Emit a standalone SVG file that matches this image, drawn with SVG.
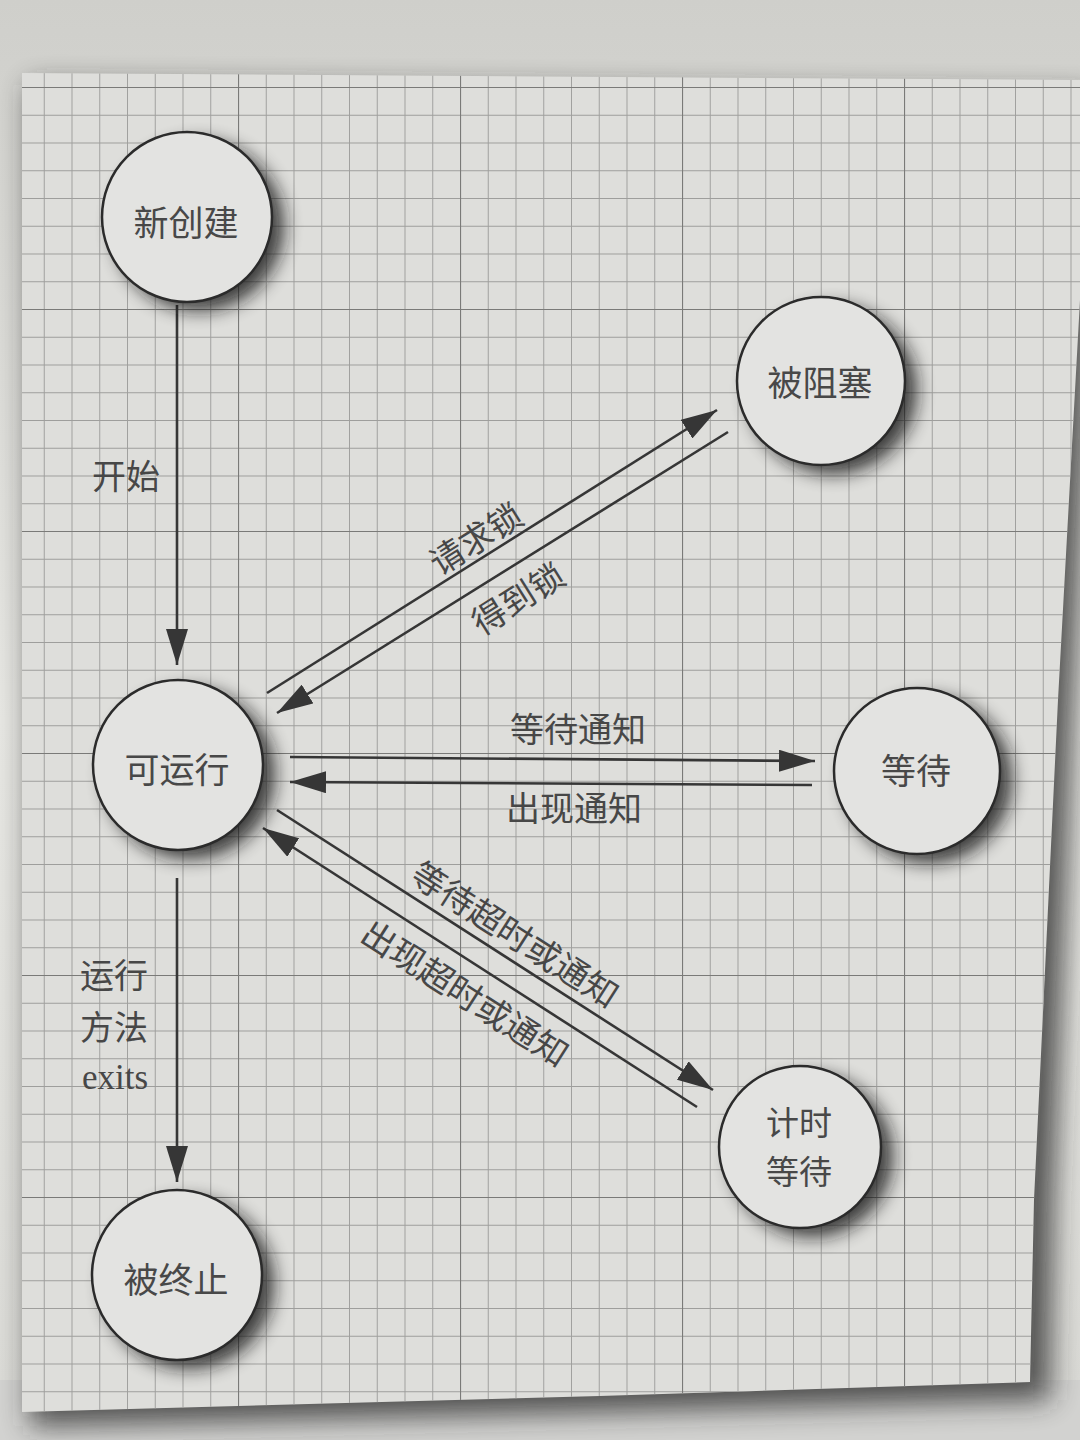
<svg xmlns="http://www.w3.org/2000/svg" width="1080" height="1440" viewBox="0 0 1080 1440">
  <defs>
    <style>
      .node-circle { fill: #e3e3e1; stroke: #2b2b2b; stroke-width: 2.5; }
      .node-shadow { fill: #151515; opacity: 0.8; filter: url(#blur10); }
      .label { font-family: "Noto Sans CJK SC", "Noto Sans", sans-serif; font-size: 34px; fill: #474747; text-anchor: middle; dominant-baseline: central; }
      .node-label { font-family: "Noto Sans CJK SC", "Noto Sans", sans-serif; font-size: 35px; fill: #484848; text-anchor: middle; dominant-baseline: central; }
      .node-label-sm { font-family: "Noto Sans CJK SC", "Noto Sans", sans-serif; font-size: 33px; fill: #484848; text-anchor: middle; dominant-baseline: central; }
      .latin { font-family: "Liberation Serif", "Noto Sans CJK SC", serif; font-size: 35px; fill: #474747; }
      .conn { stroke: #363636; stroke-width: 2.6; fill: none; marker-end: url(#arrow); }
    </style>
    <filter id="blur10" x="-50%" y="-50%" width="200%" height="200%">
      <feGaussianBlur stdDeviation="9"/>
    </filter>
    <filter id="blur14" x="-20%" y="-20%" width="140%" height="140%">
      <feGaussianBlur stdDeviation="14"/>
    </filter>
    <linearGradient id="topbg" x1="0" y1="0" x2="0" y2="1">
      <stop offset="0" stop-color="#cfcfcb"/>
      <stop offset="0.5" stop-color="#e6e6e2"/>
      <stop offset="1" stop-color="#d9d9d5"/>
    </linearGradient>
    <pattern id="minor" patternUnits="userSpaceOnUse" x="238" y="753" width="27.75" height="27.75">
      <path d="M0 0 H27.75 M0 0 V27.75" stroke="#9e9e9c" stroke-width="1.9" fill="none"/>
    </pattern>
    <pattern id="major" patternUnits="userSpaceOnUse" x="238" y="753" width="222" height="222">
      <path d="M0 0 H222 M0 0 V222" stroke="#7a7a78" stroke-width="2.2" fill="none"/>
    </pattern>
    <clipPath id="pageClip">
      <polygon points="22,73 1080,80 1080,300 1058,700 1034,1200 1030,1382 600,1396 22,1412"/>
    </clipPath>
    <marker id="arrow" markerUnits="userSpaceOnUse" markerWidth="38" markerHeight="22" refX="36" refY="11" orient="auto">
      <path d="M0 0 L36 11 L0 22 Z" fill="#363636"/>
    </marker>
  </defs>

  <!-- background outside page -->
  <rect x="0" y="0" width="1080" height="1440" fill="url(#topbg)"/>
  <rect x="0" y="1380" width="1080" height="60" fill="#d2d2d0"/>
  <!-- page shadow -->
  <polygon points="30,85 1092,95 1092,300 1074,700 1054,1200 1050,1400 600,1412 30,1426" fill="#252525" opacity="0.75" filter="url(#blur14)"/>
  <!-- page -->
  <polygon points="22,73 1080,80 1080,300 1058,700 1034,1200 1030,1382 600,1396 22,1412" fill="#dededb"/>
  <g clip-path="url(#pageClip)">
    <rect x="0" y="60" width="1080" height="1380" fill="url(#minor)"/>
    <rect x="0" y="60" width="1080" height="1380" fill="url(#major)"/>
  </g>

  <!-- connectors -->
  <g id="connectors">
    <line class="conn" x1="177" y1="305" x2="177" y2="665"/>
    <line class="conn" x1="267" y1="693" x2="717" y2="410"/>
    <line class="conn" x1="728" y1="432" x2="277" y2="713"/>
    <line class="conn" x1="290" y1="757" x2="815" y2="761"/>
    <line class="conn" x1="812" y1="785" x2="290" y2="782"/>
    <line class="conn" x1="277" y1="810" x2="713" y2="1090"/>
    <line class="conn" x1="697" y1="1107" x2="263" y2="828"/>
    <line class="conn" x1="177" y1="878" x2="177" y2="1182"/>

    <text class="label" x="126" y="474">开始</text>
    <text class="label" transform="translate(475 537) rotate(-32.2)">请求锁</text>
    <text class="label" transform="translate(517 597) rotate(-32.2)">得到锁</text>
    <text class="label" x="578" y="727">等待通知</text>
    <text class="label" x="574" y="806">出现通知</text>
    <text class="label" transform="translate(516 933) rotate(32.7)">等待超时或通知</text>
    <text class="label" transform="translate(466 992) rotate(32.7)">出现超时或通知</text>
    <text class="label" x="114" y="973">运行</text>
    <text class="label" x="114" y="1025">方法</text>
    <text class="latin" x="82" y="1089">exits</text>
  </g>

  <!-- nodes -->
  <g id="node-new">
    <circle class="node-shadow" cx="199" cy="226" r="85"/>
    <circle class="node-circle" cx="187" cy="217" r="85"/>
    <text class="node-label" x="186" y="220">新创建</text>
  </g>
  <g id="node-blocked">
    <circle class="node-shadow" cx="833" cy="390" r="84"/>
    <circle class="node-circle" cx="821" cy="381" r="84"/>
    <text class="node-label" x="820" y="380">被阻塞</text>
  </g>
  <g id="node-runnable">
    <circle class="node-shadow" cx="190" cy="774" r="85"/>
    <circle class="node-circle" cx="178" cy="765" r="85"/>
    <text class="node-label" x="177" y="767">可运行</text>
  </g>
  <g id="node-waiting">
    <circle class="node-shadow" cx="929" cy="780" r="83"/>
    <circle class="node-circle" cx="917" cy="771" r="83"/>
    <text class="node-label" x="916" y="768">等待</text>
  </g>
  <g id="node-timed-waiting">
    <circle class="node-shadow" cx="812" cy="1156" r="81"/>
    <circle class="node-circle" cx="800" cy="1147" r="81"/>
    <text class="node-label-sm" x="799" y="1121">计时</text>
    <text class="node-label-sm" x="799" y="1170">等待</text>
  </g>
  <g id="node-terminated">
    <circle class="node-shadow" cx="189" cy="1284" r="85"/>
    <circle class="node-circle" cx="177" cy="1275" r="85"/>
    <text class="node-label" x="176" y="1277">被终止</text>
  </g>
</svg>
